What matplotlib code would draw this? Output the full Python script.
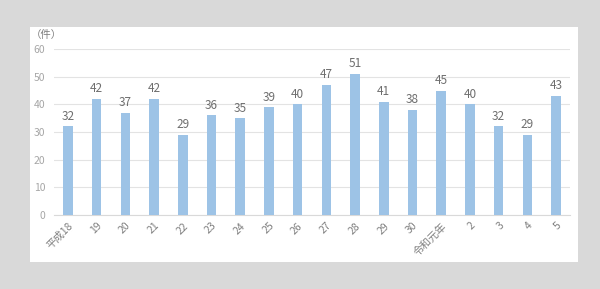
import matplotlib
matplotlib.use("Agg")
import matplotlib.pyplot as plt
from matplotlib.patches import Rectangle

plt.rcParams['font.family'] = ['Noto Sans CJK JP', 'DejaVu Sans']

categories = ["平成18", "19", "20", "21", "22", "23", "24", "25", "26", "27", "28", "29", "30", "令和元年", "2", "3", "4", "5"]
values = [32, 42, 37, 42, 29, 36, 35, 39, 40, 47, 51, 41, 38, 45, 40, 32, 29, 43]
yticks = [0, 10, 20, 30, 40, 50, 60]

fig = plt.figure(figsize=(6.0, 2.89), dpi=100)
fig.patch.set_facecolor('#d9d9d9')
bg = Rectangle((30/600, 1-262/289), (578-30)/600, (262-27)/289,
               transform=fig.transFigure, facecolor='white', edgecolor='none', zorder=-10)
fig.patches.append(bg)

ax = fig.add_axes([53.6/600, 1-215/289, (570.4-53.6)/600, (215-49)/289])
ax.set_zorder(5)
ax.patch.set_visible(False)
x = list(range(len(categories)))
bars = ax.bar(x, values, width=0.33, color='#9dc3e6', zorder=3)
for xi, v in zip(x, values):
    ax.text(xi, v + 1.3, str(v), ha='center', va='bottom', fontsize=8.5, color='#6e6e6e', zorder=4)

ax.set_xlim(-0.5, len(categories) - 0.5)
ax.set_ylim(0, 60)
ax.set_yticks(yticks)
ax.set_yticklabels([str(t) for t in yticks], fontsize=7.5, color='#a6a6a6')
ax.set_xticks(x)
ax.set_xticklabels(categories, rotation=45, ha='right', rotation_mode='anchor', fontsize=7.5, color='#7f7f7f')
ax.tick_params(axis='both', length=0, pad=6)
ax.tick_params(axis='x', pad=4)
ax.grid(axis='y', color='#e3e3e3', linewidth=0.8, zorder=0)
for s in ['top', 'right', 'left']:
    ax.spines[s].set_visible(False)
ax.spines['bottom'].set_color('#d9d9d9')

fig.text(31/600, 1-35/289, '（件）', fontsize=7.5, color='#7f7f7f', ha='left', va='center', zorder=6)

fig.savefig('out.png', dpi=100, facecolor=fig.get_facecolor())
